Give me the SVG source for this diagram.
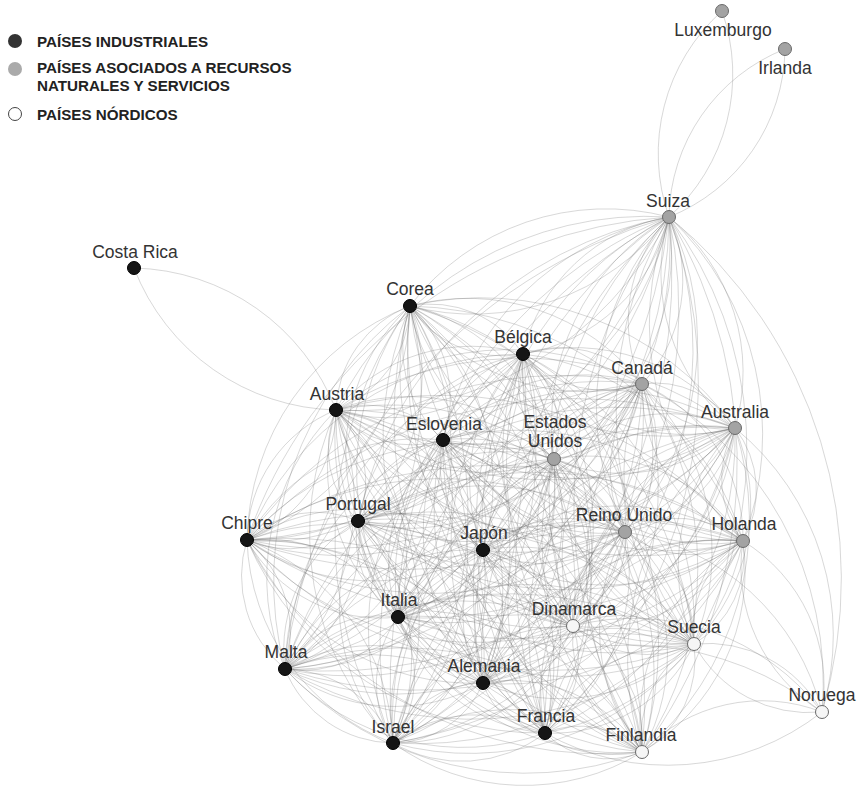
<svg xmlns="http://www.w3.org/2000/svg" xmlns:xlink="http://www.w3.org/1999/xlink" width="860" height="786" viewBox="0 0 860 786">
<style>
.lbl{font-family:"Liberation Sans",Arial,sans-serif;font-size:17.5px;fill:#333;text-anchor:middle}
.leg{font-family:"Liberation Sans",Arial,sans-serif;font-size:15.2px;font-weight:bold;fill:#222}
.ind{fill:#151515;stroke:#000;stroke-width:1}
.nat{fill:#a3a3a3;stroke:#6a6a6a;stroke-width:1}
.nor{fill:#f6f6f6;stroke:#6a6a6a;stroke-width:1}
.e{fill:none;stroke:#6a6a6a;stroke-opacity:.38;stroke-width:.7}
</style>
<defs>
<path id="L" d="M0,0A.9,.9 0 0 1 1,0A.9,.9 0 0 1 0,0" vector-effect="non-scaling-stroke"/>
<path id="S" d="M0,0A.9,.9 0 0 1 1,0" vector-effect="non-scaling-stroke"/>
</defs>
<rect width="860" height="786" fill="#fff"/>
<g id="connectors" class="e">
<use href="#L" transform="matrix(202,142,-142,202,134,268)"/>
<use href="#L" transform="matrix(-53,206,-206,-53,722,11)"/>
<use href="#L" transform="matrix(-116,168,-168,-116,785,49)"/>
<use href="#S" transform="matrix(153,495,-495,153,669,217)"/>
<use href="#S" transform="matrix(87,284,-284,87,735,428)"/>
<use href="#S" transform="matrix(197,180,-180,197,625,532)"/>
<use href="#S" transform="matrix(339,29,-29,339,483,683)"/>
<use href="#S" transform="matrix(-277,21,-21,-277,822,712)"/>
<use href="#S" transform="matrix(180,-40,40,180,642,752)"/>
<use href="#S" transform="matrix(249,86,-86,249,573,626)"/>
<use href="#S" transform="matrix(180,328,-328,180,642,384)"/>
<use href="#L" transform="matrix(79,171,-171,79,743,541)"/>
<use href="#L" transform="matrix(128,68,-68,128,694,644)"/>
<g transform="translate(669,217)">
<use href="#L" transform="matrix(-259,89,-89,-259,0,0)"/>
<use href="#L" transform="matrix(-146,137,-137,-146,0,0)"/>
<use href="#L" transform="matrix(-27,167,-167,-27,0,0)"/>
<use href="#L" transform="matrix(-333,193,-193,-333,0,0)"/>
<use href="#L" transform="matrix(-226,223,-223,-226,0,0)"/>
<use href="#L" transform="matrix(66,211,-211,66,0,0)"/>
<use href="#L" transform="matrix(-115,242,-242,-115,0,0)"/>
<use href="#L" transform="matrix(-422,323,-323,-422,0,0)"/>
<use href="#L" transform="matrix(-311,304,-304,-311,0,0)"/>
<use href="#L" transform="matrix(-186,333,-333,-186,0,0)"/>
<use href="#L" transform="matrix(-44,315,-315,-44,0,0)"/>
<use href="#L" transform="matrix(74,324,-324,74,0,0)"/>
<use href="#L" transform="matrix(-271,400,-400,-271,0,0)"/>
<use href="#L" transform="matrix(-96,409,-409,-96,0,0)"/>
<use href="#L" transform="matrix(25,427,-427,25,0,0)"/>
<use href="#L" transform="matrix(-384,452,-452,-384,0,0)"/>
<use href="#L" transform="matrix(-186,466,-466,-186,0,0)"/>
<use href="#L" transform="matrix(-124,516,-516,-124,0,0)"/>
<use href="#L" transform="matrix(-276,526,-526,-276,0,0)"/>
<use href="#L" transform="matrix(-27,535,-535,-27,0,0)"/>
</g>
<g transform="translate(410,306)">
<use href="#L" transform="matrix(113,48,-48,113,0,0)"/>
<use href="#L" transform="matrix(232,78,-78,232,0,0)"/>
<use href="#L" transform="matrix(-74,104,-104,-74,0,0)"/>
<use href="#L" transform="matrix(33,134,-134,33,0,0)"/>
<use href="#L" transform="matrix(325,122,-122,325,0,0)"/>
<use href="#L" transform="matrix(144,153,-153,144,0,0)"/>
<use href="#L" transform="matrix(-163,234,-234,-163,0,0)"/>
<use href="#L" transform="matrix(-52,215,-215,-52,0,0)"/>
<use href="#L" transform="matrix(73,244,-244,73,0,0)"/>
<use href="#L" transform="matrix(215,226,-226,215,0,0)"/>
<use href="#L" transform="matrix(333,235,-235,333,0,0)"/>
<use href="#L" transform="matrix(-12,311,-311,-12,0,0)"/>
<use href="#L" transform="matrix(163,320,-320,163,0,0)"/>
<use href="#L" transform="matrix(284,338,-338,284,0,0)"/>
<use href="#L" transform="matrix(-125,363,-363,-125,0,0)"/>
<use href="#L" transform="matrix(73,377,-377,73,0,0)"/>
<use href="#L" transform="matrix(135,427,-427,135,0,0)"/>
<use href="#L" transform="matrix(-17,437,-437,-17,0,0)"/>
<use href="#L" transform="matrix(232,446,-446,232,0,0)"/>
</g>
<g transform="translate(523,354)">
<use href="#L" transform="matrix(119,30,-30,119,0,0)"/>
<use href="#L" transform="matrix(-187,56,-56,-187,0,0)"/>
<use href="#L" transform="matrix(-80,86,-86,-80,0,0)"/>
<use href="#L" transform="matrix(212,74,-74,212,0,0)"/>
<use href="#L" transform="matrix(31,105,-105,31,0,0)"/>
<use href="#L" transform="matrix(-276,186,-186,-276,0,0)"/>
<use href="#L" transform="matrix(-165,167,-167,-165,0,0)"/>
<use href="#L" transform="matrix(-40,196,-196,-40,0,0)"/>
<use href="#L" transform="matrix(102,178,-178,102,0,0)"/>
<use href="#L" transform="matrix(220,187,-187,220,0,0)"/>
<use href="#L" transform="matrix(-125,263,-263,-125,0,0)"/>
<use href="#L" transform="matrix(50,272,-272,50,0,0)"/>
<use href="#L" transform="matrix(171,290,-290,171,0,0)"/>
<use href="#L" transform="matrix(-238,315,-315,-238,0,0)"/>
<use href="#L" transform="matrix(-40,329,-329,-40,0,0)"/>
<use href="#L" transform="matrix(22,379,-379,22,0,0)"/>
<use href="#L" transform="matrix(-130,389,-389,-130,0,0)"/>
<use href="#L" transform="matrix(119,398,-398,119,0,0)"/>
</g>
<g transform="translate(642,384)">
<use href="#L" transform="matrix(-306,26,-26,-306,0,0)"/>
<use href="#L" transform="matrix(-199,56,-56,-199,0,0)"/>
<use href="#L" transform="matrix(93,44,-44,93,0,0)"/>
<use href="#L" transform="matrix(-88,75,-75,-88,0,0)"/>
<use href="#L" transform="matrix(-395,156,-156,-395,0,0)"/>
<use href="#L" transform="matrix(-284,137,-137,-284,0,0)"/>
<use href="#L" transform="matrix(-159,166,-166,-159,0,0)"/>
<use href="#L" transform="matrix(-17,148,-148,-17,0,0)"/>
<use href="#L" transform="matrix(101,157,-157,101,0,0)"/>
<use href="#L" transform="matrix(-244,233,-233,-244,0,0)"/>
<use href="#L" transform="matrix(-69,242,-242,-69,0,0)"/>
<use href="#L" transform="matrix(52,260,-260,52,0,0)"/>
<use href="#L" transform="matrix(-357,285,-285,-357,0,0)"/>
<use href="#L" transform="matrix(-159,299,-299,-159,0,0)"/>
<use href="#L" transform="matrix(-97,349,-349,-97,0,0)"/>
<use href="#L" transform="matrix(-249,359,-359,-249,0,0)"/>
<use href="#L" transform="matrix(0,368,-368,0,0,0)"/>
</g>
<g transform="translate(336,410)">
<use href="#L" transform="matrix(107,30,-30,107,0,0)"/>
<use href="#L" transform="matrix(399,18,-18,399,0,0)"/>
<use href="#L" transform="matrix(218,49,-49,218,0,0)"/>
<use href="#L" transform="matrix(-89,130,-130,-89,0,0)"/>
<use href="#L" transform="matrix(22,111,-111,22,0,0)"/>
<use href="#L" transform="matrix(147,140,-140,147,0,0)"/>
<use href="#L" transform="matrix(289,122,-122,289,0,0)"/>
<use href="#L" transform="matrix(407,131,-131,407,0,0)"/>
<use href="#L" transform="matrix(62,207,-207,62,0,0)"/>
<use href="#L" transform="matrix(237,216,-216,237,0,0)"/>
<use href="#L" transform="matrix(358,234,-234,358,0,0)"/>
<use href="#L" transform="matrix(-51,259,-259,-51,0,0)"/>
<use href="#L" transform="matrix(147,273,-273,147,0,0)"/>
<use href="#L" transform="matrix(209,323,-323,209,0,0)"/>
<use href="#L" transform="matrix(57,333,-333,57,0,0)"/>
<use href="#L" transform="matrix(306,342,-342,306,0,0)"/>
</g>
<g transform="translate(443,440)">
<use href="#L" transform="matrix(292,-12,12,292,0,0)"/>
<use href="#L" transform="matrix(111,19,-19,111,0,0)"/>
<use href="#L" transform="matrix(-196,100,-100,-196,0,0)"/>
<use href="#L" transform="matrix(-85,81,-81,-85,0,0)"/>
<use href="#L" transform="matrix(40,110,-110,40,0,0)"/>
<use href="#L" transform="matrix(182,92,-92,182,0,0)"/>
<use href="#L" transform="matrix(300,101,-101,300,0,0)"/>
<use href="#L" transform="matrix(-45,177,-177,-45,0,0)"/>
<use href="#L" transform="matrix(130,186,-186,130,0,0)"/>
<use href="#L" transform="matrix(251,204,-204,251,0,0)"/>
<use href="#L" transform="matrix(-158,229,-229,-158,0,0)"/>
<use href="#L" transform="matrix(40,243,-243,40,0,0)"/>
<use href="#L" transform="matrix(102,293,-293,102,0,0)"/>
<use href="#L" transform="matrix(-50,303,-303,-50,0,0)"/>
<use href="#L" transform="matrix(199,312,-312,199,0,0)"/>
</g>
<g transform="translate(735,428)">
<use href="#L" transform="matrix(-181,31,-31,-181,0,0)"/>
<use href="#L" transform="matrix(-488,112,-112,-488,0,0)"/>
<use href="#L" transform="matrix(-377,93,-93,-377,0,0)"/>
<use href="#L" transform="matrix(-252,122,-122,-252,0,0)"/>
<use href="#L" transform="matrix(-110,104,-104,-110,0,0)"/>
<use href="#L" transform="matrix(8,113,-113,8,0,0)"/>
<use href="#L" transform="matrix(-337,189,-189,-337,0,0)"/>
<use href="#L" transform="matrix(-162,198,-198,-162,0,0)"/>
<use href="#L" transform="matrix(-41,216,-216,-41,0,0)"/>
<use href="#L" transform="matrix(-450,241,-241,-450,0,0)"/>
<use href="#L" transform="matrix(-252,255,-255,-252,0,0)"/>
<use href="#L" transform="matrix(-190,305,-305,-190,0,0)"/>
<use href="#L" transform="matrix(-342,315,-315,-342,0,0)"/>
<use href="#L" transform="matrix(-93,324,-324,-93,0,0)"/>
</g>
<g transform="translate(554,459)">
<use href="#L" transform="matrix(-307,81,-81,-307,0,0)"/>
<use href="#L" transform="matrix(-196,62,-62,-196,0,0)"/>
<use href="#L" transform="matrix(-71,91,-91,-71,0,0)"/>
<use href="#L" transform="matrix(71,73,-73,71,0,0)"/>
<use href="#L" transform="matrix(189,82,-82,189,0,0)"/>
<use href="#L" transform="matrix(-156,158,-158,-156,0,0)"/>
<use href="#L" transform="matrix(19,167,-167,19,0,0)"/>
<use href="#L" transform="matrix(140,185,-185,140,0,0)"/>
<use href="#L" transform="matrix(-269,210,-210,-269,0,0)"/>
<use href="#L" transform="matrix(-71,224,-224,-71,0,0)"/>
<use href="#L" transform="matrix(-9,274,-274,-9,0,0)"/>
<use href="#L" transform="matrix(-161,284,-284,-161,0,0)"/>
<use href="#L" transform="matrix(88,293,-293,88,0,0)"/>
</g>
<g transform="translate(247,540)">
<use href="#L" transform="matrix(111,-19,19,111,0,0)"/>
<use href="#L" transform="matrix(236,10,-10,236,0,0)"/>
<use href="#L" transform="matrix(378,-8,8,378,0,0)"/>
<use href="#L" transform="matrix(496,1,-1,496,0,0)"/>
<use href="#L" transform="matrix(151,77,-77,151,0,0)"/>
<use href="#L" transform="matrix(326,86,-86,326,0,0)"/>
<use href="#L" transform="matrix(447,104,-104,447,0,0)"/>
<use href="#L" transform="matrix(38,129,-129,38,0,0)"/>
<use href="#L" transform="matrix(236,143,-143,236,0,0)"/>
<use href="#L" transform="matrix(298,193,-193,298,0,0)"/>
<use href="#L" transform="matrix(146,203,-203,146,0,0)"/>
<use href="#L" transform="matrix(395,212,-212,395,0,0)"/>
</g>
<g transform="translate(358,521)">
<use href="#L" transform="matrix(125,29,-29,125,0,0)"/>
<use href="#L" transform="matrix(267,11,-11,267,0,0)"/>
<use href="#L" transform="matrix(385,20,-20,385,0,0)"/>
<use href="#L" transform="matrix(40,96,-96,40,0,0)"/>
<use href="#L" transform="matrix(215,105,-105,215,0,0)"/>
<use href="#L" transform="matrix(336,123,-123,336,0,0)"/>
<use href="#L" transform="matrix(-73,148,-148,-73,0,0)"/>
<use href="#L" transform="matrix(125,162,-162,125,0,0)"/>
<use href="#L" transform="matrix(187,212,-212,187,0,0)"/>
<use href="#L" transform="matrix(35,222,-222,35,0,0)"/>
<use href="#L" transform="matrix(284,231,-231,284,0,0)"/>
</g>
<g transform="translate(483,550)">
<use href="#L" transform="matrix(142,-18,18,142,0,0)"/>
<use href="#L" transform="matrix(260,-9,9,260,0,0)"/>
<use href="#L" transform="matrix(-85,67,-67,-85,0,0)"/>
<use href="#L" transform="matrix(90,76,-76,90,0,0)"/>
<use href="#L" transform="matrix(211,94,-94,211,0,0)"/>
<use href="#L" transform="matrix(-198,119,-119,-198,0,0)"/>
<use href="#L" transform="matrix(0,133,-133,0,0,0)"/>
<use href="#L" transform="matrix(62,183,-183,62,0,0)"/>
<use href="#L" transform="matrix(-90,193,-193,-90,0,0)"/>
<use href="#L" transform="matrix(159,202,-202,159,0,0)"/>
</g>
<g transform="translate(625,532)">
<use href="#L" transform="matrix(118,9,-9,118,0,0)"/>
<use href="#L" transform="matrix(-227,85,-85,-227,0,0)"/>
<use href="#L" transform="matrix(-52,94,-94,-52,0,0)"/>
<use href="#L" transform="matrix(69,112,-112,69,0,0)"/>
<use href="#L" transform="matrix(-340,137,-137,-340,0,0)"/>
<use href="#L" transform="matrix(-142,151,-151,-142,0,0)"/>
<use href="#L" transform="matrix(-80,201,-201,-80,0,0)"/>
<use href="#L" transform="matrix(-232,211,-211,-232,0,0)"/>
<use href="#L" transform="matrix(17,220,-220,17,0,0)"/>
</g>
<g transform="translate(743,541)">
<use href="#L" transform="matrix(-345,76,-76,-345,0,0)"/>
<use href="#L" transform="matrix(-170,85,-85,-170,0,0)"/>
<use href="#L" transform="matrix(-49,103,-103,-49,0,0)"/>
<use href="#L" transform="matrix(-458,128,-128,-458,0,0)"/>
<use href="#L" transform="matrix(-260,142,-142,-260,0,0)"/>
<use href="#L" transform="matrix(-198,192,-192,-198,0,0)"/>
<use href="#L" transform="matrix(-350,202,-202,-350,0,0)"/>
<use href="#L" transform="matrix(-101,211,-211,-101,0,0)"/>
</g>
<g transform="translate(398,617)">
<use href="#L" transform="matrix(175,9,-9,175,0,0)"/>
<use href="#L" transform="matrix(296,27,-27,296,0,0)"/>
<use href="#L" transform="matrix(-113,52,-52,-113,0,0)"/>
<use href="#L" transform="matrix(85,66,-66,85,0,0)"/>
<use href="#L" transform="matrix(147,116,-116,147,0,0)"/>
<use href="#L" transform="matrix(-5,126,-126,-5,0,0)"/>
<use href="#L" transform="matrix(244,135,-135,244,0,0)"/>
</g>
<g transform="translate(573,626)">
<use href="#L" transform="matrix(121,18,-18,121,0,0)"/>
<use href="#L" transform="matrix(-288,43,-43,-288,0,0)"/>
<use href="#L" transform="matrix(-90,57,-57,-90,0,0)"/>
<use href="#L" transform="matrix(-28,107,-107,-28,0,0)"/>
<use href="#L" transform="matrix(-180,117,-117,-180,0,0)"/>
<use href="#L" transform="matrix(69,126,-126,69,0,0)"/>
</g>
<g transform="translate(694,644)">
<use href="#L" transform="matrix(-409,25,-25,-409,0,0)"/>
<use href="#L" transform="matrix(-211,39,-39,-211,0,0)"/>
<use href="#L" transform="matrix(-149,89,-89,-149,0,0)"/>
<use href="#L" transform="matrix(-301,99,-99,-301,0,0)"/>
<use href="#L" transform="matrix(-52,108,-108,-52,0,0)"/>
</g>
<g transform="translate(285,669)">
<use href="#L" transform="matrix(198,14,-14,198,0,0)"/>
<use href="#L" transform="matrix(260,64,-64,260,0,0)"/>
<use href="#L" transform="matrix(108,74,-74,108,0,0)"/>
<use href="#L" transform="matrix(357,83,-83,357,0,0)"/>
</g>
<g transform="translate(483,683)">
<use href="#L" transform="matrix(62,50,-50,62,0,0)"/>
<use href="#L" transform="matrix(-90,60,-60,-90,0,0)"/>
<use href="#L" transform="matrix(159,69,-69,159,0,0)"/>
</g>
<g transform="translate(545,733)">
<use href="#L" transform="matrix(-152,10,-10,-152,0,0)"/>
<use href="#L" transform="matrix(97,19,-19,97,0,0)"/>
</g>
<g transform="translate(393,743)">
<use href="#L" transform="matrix(249,9,-9,249,0,0)"/>
</g>
</g>
<g id="legend">
<circle cx="15" cy="41" r="7" fill="#333"/>
<circle cx="15" cy="69" r="7" fill="#aaa"/>
<circle cx="15" cy="114" r="6.5" fill="#fff" stroke="#444" stroke-width="1"/>
<text class="leg" x="37" y="47">PAÍSES INDUSTRIALES</text>
<text class="leg" x="37" y="73">PAÍSES ASOCIADOS A RECURSOS</text>
<text class="leg" x="37" y="90.5">NATURALES Y SERVICIOS</text>
<text class="leg" x="37" y="120">PAÍSES NÓRDICOS</text>
</g>
<g id="n-luxemburgo"><circle class="nat" cx="722" cy="11" r="6.5"/><text class="lbl" x="723" y="36">Luxemburgo</text></g>
<g id="n-irlanda"><circle class="nat" cx="785" cy="49" r="6.5"/><text class="lbl" x="785" y="74">Irlanda</text></g>
<g id="n-suiza"><circle class="nat" cx="669" cy="217" r="6.5"/><text class="lbl" x="668" y="207">Suiza</text></g>
<g id="n-costarica"><circle class="ind" cx="134" cy="268" r="6.5"/><text class="lbl" x="135" y="258">Costa Rica</text></g>
<g id="n-corea"><circle class="ind" cx="410" cy="306" r="6.5"/><text class="lbl" x="410" y="295">Corea</text></g>
<g id="n-belgica"><circle class="ind" cx="523" cy="354" r="6.5"/><text class="lbl" x="523" y="343">Bélgica</text></g>
<g id="n-canada"><circle class="nat" cx="642" cy="384" r="6.5"/><text class="lbl" x="642" y="374">Canadá</text></g>
<g id="n-austria"><circle class="ind" cx="336" cy="410" r="6.5"/><text class="lbl" x="337" y="400">Austria</text></g>
<g id="n-eslovenia"><circle class="ind" cx="443" cy="440" r="6.5"/><text class="lbl" x="444" y="430">Eslovenia</text></g>
<g id="n-australia"><circle class="nat" cx="735" cy="428" r="6.5"/><text class="lbl" x="735" y="418">Australia</text></g>
<g id="n-estadosunidos"><circle class="nat" cx="554" cy="459" r="6.5"/><text class="lbl" x="555" y="428">Estados</text><text class="lbl" x="555" y="447">Unidos</text></g>
<g id="n-chipre"><circle class="ind" cx="247" cy="540" r="6.5"/><text class="lbl" x="247" y="529">Chipre</text></g>
<g id="n-portugal"><circle class="ind" cx="358" cy="521" r="6.5"/><text class="lbl" x="358" y="510">Portugal</text></g>
<g id="n-japon"><circle class="ind" cx="483" cy="550" r="6.5"/><text class="lbl" x="484" y="539">Japón</text></g>
<g id="n-reinounido"><circle class="nat" cx="625" cy="532" r="6.5"/><text class="lbl" x="624" y="521">Reino Unido</text></g>
<g id="n-holanda"><circle class="nat" cx="743" cy="541" r="6.5"/><text class="lbl" x="744" y="530">Holanda</text></g>
<g id="n-italia"><circle class="ind" cx="398" cy="617" r="6.5"/><text class="lbl" x="399" y="606">Italia</text></g>
<g id="n-dinamarca"><circle class="nor" cx="573" cy="626" r="6.5"/><text class="lbl" x="574" y="615">Dinamarca</text></g>
<g id="n-suecia"><circle class="nor" cx="694" cy="644" r="6.5"/><text class="lbl" x="694" y="633">Suecia</text></g>
<g id="n-malta"><circle class="ind" cx="285" cy="669" r="6.5"/><text class="lbl" x="286" y="658">Malta</text></g>
<g id="n-alemania"><circle class="ind" cx="483" cy="683" r="6.5"/><text class="lbl" x="484" y="672">Alemania</text></g>
<g id="n-noruega"><circle class="nor" cx="822" cy="712" r="6.5"/><text class="lbl" x="822" y="701">Noruega</text></g>
<g id="n-francia"><circle class="ind" cx="545" cy="733" r="6.5"/><text class="lbl" x="546" y="722">Francia</text></g>
<g id="n-israel"><circle class="ind" cx="393" cy="743" r="6.5"/><text class="lbl" x="393" y="733">Israel</text></g>
<g id="n-finlandia"><circle class="nor" cx="642" cy="752" r="6.5"/><text class="lbl" x="641" y="741">Finlandia</text></g>
</svg>
